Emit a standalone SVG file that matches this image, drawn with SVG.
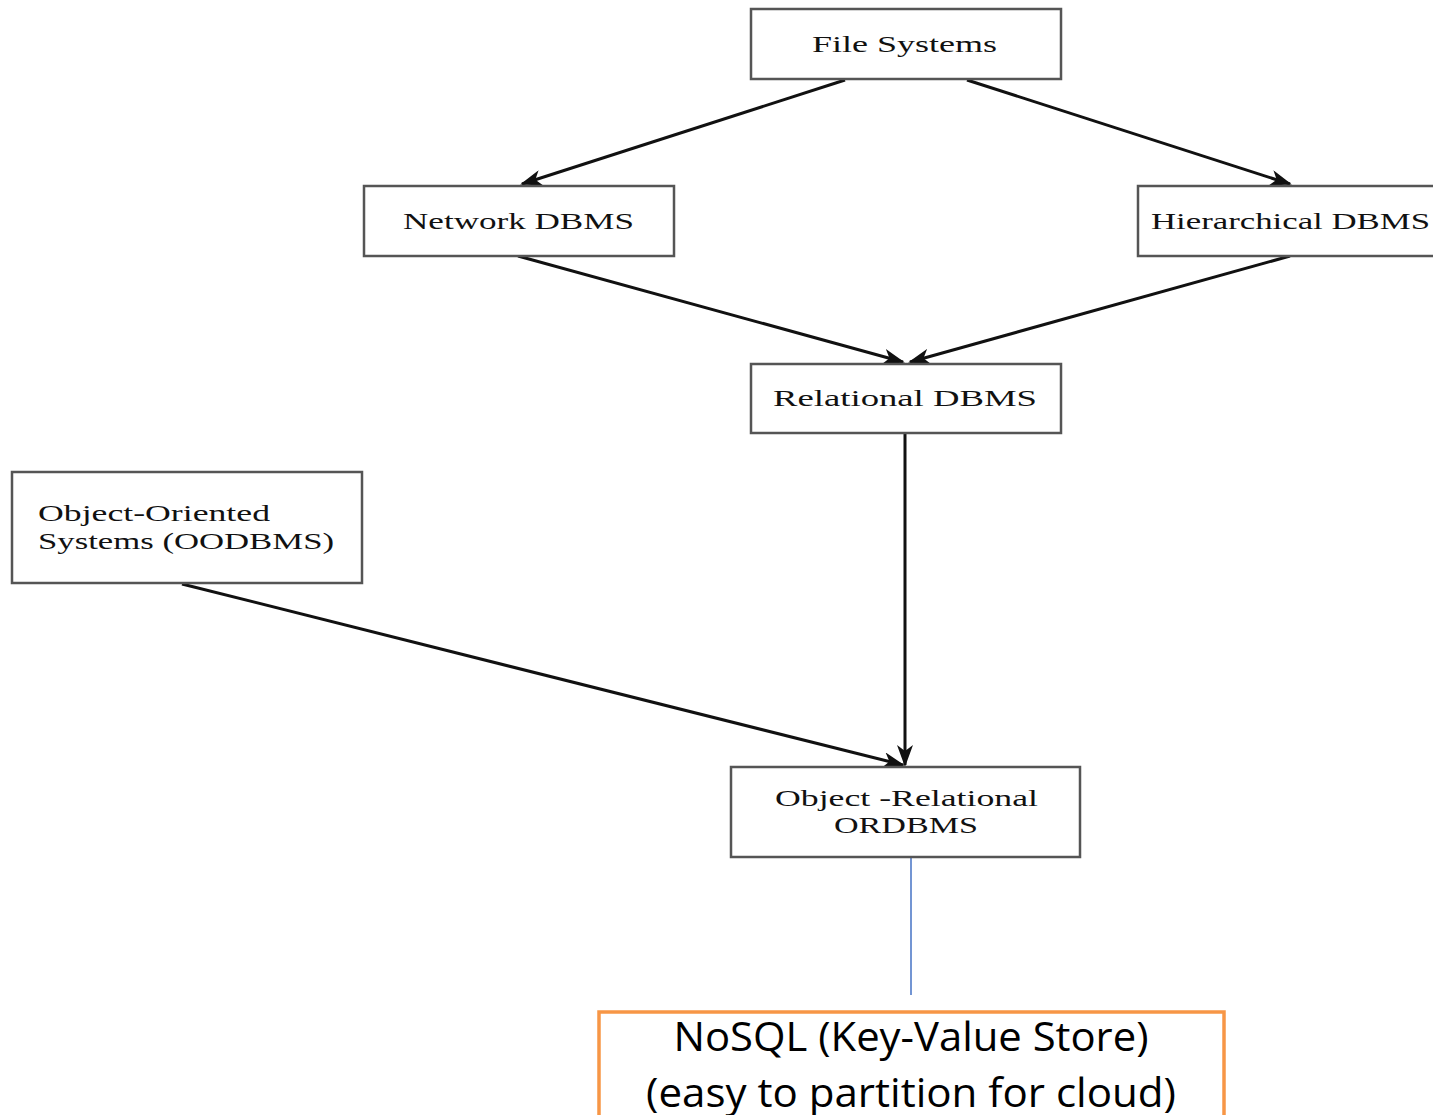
<svg xmlns="http://www.w3.org/2000/svg" width="1433" height="1115" viewBox="0 0 1433 1115">
<style>
.box{fill:#fff;stroke:#555;stroke-width:2.5}
.lbl{font-family:"Liberation Serif","DejaVu Serif",serif;font-size:24px;fill:#111}
.edge{stroke:#111;stroke-width:3;fill:none}
.nosql{fill:#fff;stroke:#F79646;stroke-width:3.5}
.ntxt{font-family:"Open Sans","Liberation Sans",sans-serif;font-size:40px;fill:#000;text-anchor:middle}
</style>
<defs>
<marker id="ah" markerUnits="userSpaceOnUse" markerWidth="22" markerHeight="16" viewBox="0 0 22 16" refX="20" refY="8" orient="auto">
<path d="M0,0 L22,8 L0,16 L6,8 Z" fill="#111"/>
</marker>
</defs>
<rect width="1433" height="1115" fill="#fff"/>
<g id="connectors">
<line class="edge" x1="845" y1="80" x2="522" y2="184" marker-end="url(#ah)"/>
<line class="edge" x1="967" y1="80" x2="1290" y2="184" marker-end="url(#ah)"/>
<line class="edge" x1="518" y1="256" x2="903" y2="362" marker-end="url(#ah)"/>
<line class="edge" x1="1290" y1="256" x2="910" y2="362" marker-end="url(#ah)"/>
<line class="edge" x1="905" y1="434" x2="905" y2="765" marker-end="url(#ah)"/>
<line class="edge" x1="182" y1="584" x2="903" y2="765" marker-end="url(#ah)"/>
<line x1="911" y1="852" x2="911" y2="995" stroke="#4472C4" stroke-width="1.5"/>
</g>
<g id="file-systems">
<rect class="box" x="751" y="9" width="310" height="70"/>
<text class="lbl" x="812" y="52" textLength="185" lengthAdjust="spacingAndGlyphs">File  Systems</text>
</g>
<g id="network-dbms">
<rect class="box" x="364" y="186" width="310" height="70"/>
<text class="lbl" x="403" y="229" textLength="231" lengthAdjust="spacingAndGlyphs">Network DBMS</text>
</g>
<g id="hierarchical-dbms">
<rect class="box" x="1138" y="186" width="300" height="70"/>
<text class="lbl" x="1151" y="229" textLength="279" lengthAdjust="spacingAndGlyphs">Hierarchical DBMS</text>
</g>
<g id="relational-dbms">
<rect class="box" x="751" y="364" width="310" height="69"/>
<text class="lbl" x="773" y="406" textLength="264" lengthAdjust="spacingAndGlyphs">Relational  DBMS</text>
</g>
<g id="oodbms">
<rect class="box" x="12" y="472" width="350" height="111"/>
<text class="lbl" x="38" y="521" textLength="232" lengthAdjust="spacingAndGlyphs">Object-Oriented</text>
<text class="lbl" x="38" y="549" textLength="296" lengthAdjust="spacingAndGlyphs">Systems (OODBMS)</text>
</g>
<g id="ordbms">
<rect class="box" x="731" y="767" width="349" height="90"/>
<text class="lbl" x="775" y="806" textLength="263" lengthAdjust="spacingAndGlyphs">Object -Relational</text>
<text class="lbl" x="834" y="833" textLength="144" lengthAdjust="spacingAndGlyphs">ORDBMS</text>
</g>
<g id="nosql">
<rect class="nosql" x="599" y="1012" width="625" height="120"/>
<text class="ntxt" x="911" y="1051" textLength="475" lengthAdjust="spacingAndGlyphs">NoSQL (Key-Value Store)</text>
<text class="ntxt" x="911" y="1107" textLength="530" lengthAdjust="spacingAndGlyphs">(easy to partition for cloud)</text>
</g>
</svg>
